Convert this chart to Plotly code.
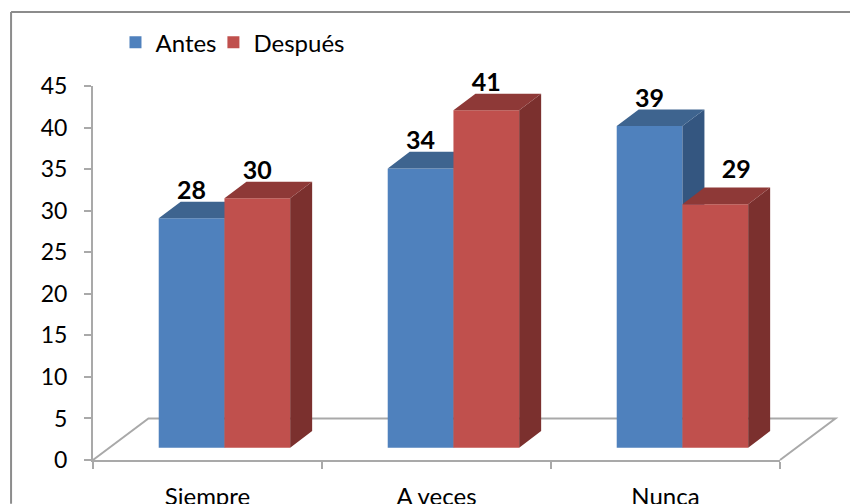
import plotly.graph_objects as go

categorias = ["Siempre", "A veces", "Nunca"]
antes = [27.6, 33.6, 38.7]
despues = [30.0, 40.6, 29.3]
y_ticks = [0, 5, 10, 15, 20, 25, 30, 35, 40, 45]

FUENTE = "Lato"
GRIS = "#a9a9a9"

# pseudo 3D, everything in axis units
ancho_barra = 0.287
desfase = 0.074
base = 1.48
prof_x = 0.096
prof_y = 2.0
piso_x = 0.242
etiqueta_y = 1.6

# the page body adds 8px, so the figure is 8px smaller than the window
CUERPO = 8
ANCHO, ALTO = 858 - CUERPO, 504 - CUERPO
M_L, M_R, M_T, M_B = 92.5 - CUERPO, 78, 86 - CUERPO, 43.7
plot_w = ANCHO - M_L - M_R
plot_h = ALTO - M_T - M_B


def caras(valores, inicio):
    # returns side and top polygons of each bar, separated by None
    lado_x, lado_y, tapa_x, tapa_y = [], [], [], []
    for i, v in enumerate(valores):
        x0 = i + inicio
        x1 = x0 + ancho_barra
        top = base + v
        lado_x += [x1, x1 + prof_x, x1 + prof_x, x1, x1, None]
        lado_y += [base, base + prof_y, top + prof_y, top, base, None]
        tapa_x += [x0, x0 + prof_x, x1 + prof_x, x1, x0, None]
        tapa_y += [top, top + prof_y, top + prof_y, top, top, None]
    return lado_x, lado_y, tapa_x, tapa_y


def serie(fig, nombre, valores, inicio, frente, lado, tapa, ejes, leyenda, mover=None):
    # mover: {index: (dx, dy)} for labels that sit off their bar
    mover = mover or {}
    xa, ya = ejes
    fig.add_trace(go.Bar(
        x=list(range(len(valores))), y=valores, base=base,
        width=ancho_barra, offset=inicio, name=nombre, legend=leyenda,
        marker=dict(color=frente, line=dict(width=0)),
        xaxis=xa, yaxis=ya,
    ))
    lado_x, lado_y, tapa_x, tapa_y = caras(valores, inicio)
    for px, py, color in [(lado_x, lado_y, lado), (tapa_x, tapa_y, tapa)]:
        fig.add_trace(go.Scatter(
            x=px, y=py, mode="lines", fill="toself", fillcolor=color,
            line=dict(width=0, color=color), showlegend=False,
            hoverinfo="skip", xaxis=xa, yaxis=ya, cliponaxis=False,
        ))
    fig.add_trace(go.Scatter(
        x=[i + inicio + ancho_barra / 2 + mover.get(i, (0, 0))[0] for i in range(len(valores))],
        y=[base + v + etiqueta_y + mover.get(i, (0, 0))[1] for i, v in enumerate(valores)],
        mode="text", text=[f"{v:.0f}" for v in valores],
        textposition="top center",
        textfont=dict(family=FUENTE, size=25, color="black", weight="bold"),
        showlegend=False, hoverinfo="skip", xaxis=xa, yaxis=ya, cliponaxis=False,
    ))


fig = go.Figure()
serie(fig, "Antes", antes, desfase - ancho_barra, "#4f81bd", "#345680", "#3e648f", ("x", "y"), "legend")
serie(fig, "Después", despues, desfase, "#c0504d", "#7b302e", "#8e3937", ("x2", "y2"), "legend2",
      mover={2: (0.092, 0.85)})

rango_x = [-0.5, 2.5]
rango_y = [0, 45]

# floor of the 3D box, below the bars
dx_piso = piso_x / 3
y_piso = 5 / 45
piso = f"M 0 0 L {dx_piso} {y_piso} L {1 + dx_piso} {y_piso} L 1 0"
marco_x = (10.5 - CUERPO - M_L) / plot_w
marco_y = 1 + (M_T - (12 - CUERPO)) / plot_h
marco_b = -M_B / plot_h


def leyenda(px):
    # two legends so the entries can sit closer than plotly would place them
    return dict(
        orientation="h", x=(px - M_L) / plot_w, y=1 + (M_T - 12) / plot_h,
        xanchor="left", yanchor="top",
        font=dict(family=FUENTE, size=24, color="black"),
        bgcolor="rgba(0,0,0,0)", itemclick=False, itemdoubleclick=False,
    )


fig.update_layout(
    width=ANCHO, height=ALTO,
    margin=dict(l=M_L, r=M_R, t=M_T, b=M_B, autoexpand=False),
    paper_bgcolor="white", plot_bgcolor="rgba(0,0,0,0)",
    barmode="overlay",
    font=dict(family=FUENTE, size=23, color="black"),
    hovermode=False,
    legend=leyenda(107),
    legend2=leyenda(205),
    xaxis=dict(
        range=rango_x, tickmode="array", tickvals=[0, 1, 2], ticktext=categorias,
        ticks="", showline=False, showgrid=False, zeroline=False,
        tickfont=dict(family=FUENTE, size=24, color="black"),
        ticklabelstandoff=20,
    ),
    yaxis=dict(
        range=rango_y, tickmode="array", tickvals=y_ticks,
        ticks="outside", ticklen=7, tickwidth=1.5, tickcolor=GRIS,
        showline=True, linecolor=GRIS, linewidth=2, showgrid=False, zeroline=False,
        ticklabelstandoff=12,
    ),
    xaxis2=dict(
        range=rango_x, overlaying="x", side="bottom", anchor="y2",
        tickmode="array", tickvals=[i - 0.5 for i in range(4)], ticktext=["", "", "", ""],
        ticks="outside", ticklen=7, tickwidth=1.5, tickcolor=GRIS,
        showline=True, linecolor=GRIS, linewidth=2, showgrid=False, zeroline=False,
    ),
    yaxis2=dict(range=rango_y, overlaying="y", visible=False),
    shapes=[
        dict(type="path", xref="paper", yref="paper", path=piso, layer="below",
             line=dict(color=GRIS, width=2)),
        dict(type="line", xref="paper", yref="paper", layer="below",
             x0=marco_x, x1=marco_x, y0=marco_b, y1=marco_y,
             line=dict(color="#8c8c8c", width=2)),
        dict(type="line", xref="paper", yref="paper", layer="below",
             x0=marco_x, x1=1 + M_R / plot_w, y0=marco_y, y1=marco_y,
             line=dict(color="#8c8c8c", width=2)),
    ],
)

fig.write_html("out.html")
